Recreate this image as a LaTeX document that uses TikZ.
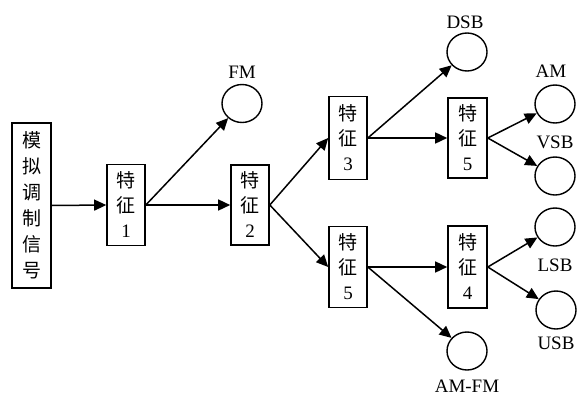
\documentclass[tikz,border=0pt]{standalone}
\usepackage{fontspec}
\setmainfont{Liberation Serif}
\newfontfamily\cjk{Noto Sans CJK SC}
\newcommand\zh[1]{{\cjk #1}}
\usetikzlibrary{arrows.meta,shapes.geometric}
\begin{document}
\begin{tikzpicture}[x=1pt,y=-1pt,
  every node/.style={inner sep=0pt},
  fbox/.style={draw,line width=1.6pt,minimum width=38pt,minimum height=81pt,align=center,font=\fontsize{19}{25}\selectfont},
  endc/.style={draw,line width=1.4pt,ellipse,minimum width=40pt,minimum height=38pt},
  lbl/.style={font=\fontsize{19}{21}\selectfont},
  arr/.style={line width=1.5pt,-{Triangle[length=12pt,width=11pt]}}
]
\useasboundingbox (0,0) rectangle (577,396);
\node[fbox,minimum width=39pt,minimum height=165pt,font=\fontsize{19}{26}\selectfont] (src) at (31.5,205.5) {\zh{模}\\\zh{拟}\\\zh{调}\\\zh{制}\\\zh{信}\\\zh{号}};
\node[fbox] (f1) at (126,205) {\zh{特}\\\zh{征}\\1};
\node[fbox,minimum height=80pt] (f2) at (250,205) {\zh{特}\\\zh{征}\\2};
\node[fbox,minimum height=83pt] (f3) at (348,138) {\zh{特}\\\zh{征}\\3};
\node[fbox] (f5a) at (348,267) {\zh{特}\\\zh{征}\\5};
\node[fbox,minimum width=39pt,minimum height=80pt] (f5b) at (467.5,138) {\zh{特}\\\zh{征}\\5};
\node[fbox,minimum width=39pt,minimum height=82pt] (f4) at (467.5,267) {\zh{特}\\\zh{征}\\4};
\node[endc] (fm) at (242,103.5) {};
\node[lbl] (fml) at (242,72) {FM};
\node[endc] (dsb) at (467,52) {};
\node[lbl] (dsbl) at (465,22) {DSB};
\node[endc] (am) at (555,104) {};
\node[lbl] (aml) at (551,71) {AM};
\node[endc] (vsb) at (555,176) {};
\node[lbl] (vsbl) at (555,142) {VSB};
\node[endc] (lsb) at (555,227) {};
\node[lbl] (lsbl) at (555,265) {LSB};
\node[endc] (usb) at (556,310) {};
\node[lbl] (usbl) at (556,343) {USB};
\node[endc] (amfm) at (467,351) {};
\node[lbl] (amfml) at (467,386) {AM-FM};
\draw[arr] (src.east) -- (f1.west);
\draw[arr] (f1.east) -- (fm);
\draw[arr] (f1.east) -- (f2.west);
\draw[arr] (f2.east) -- (f3.west);
\draw[arr] (f2.east) -- (f5a.west);
\draw[arr] (f3.east) -- (dsb);
\draw[arr] (f3.east) -- (f5b.west);
\draw[arr] (f5a.east) -- (f4.west);
\draw[arr] (f5a.east) -- (amfm);
\draw[arr] (f5b.east) -- (am);
\draw[arr] (f5b.east) -- (vsb);
\draw[arr] (f4.east) -- (lsb);
\draw[arr] (f4.east) -- (usb);
\end{tikzpicture}
\end{document}
